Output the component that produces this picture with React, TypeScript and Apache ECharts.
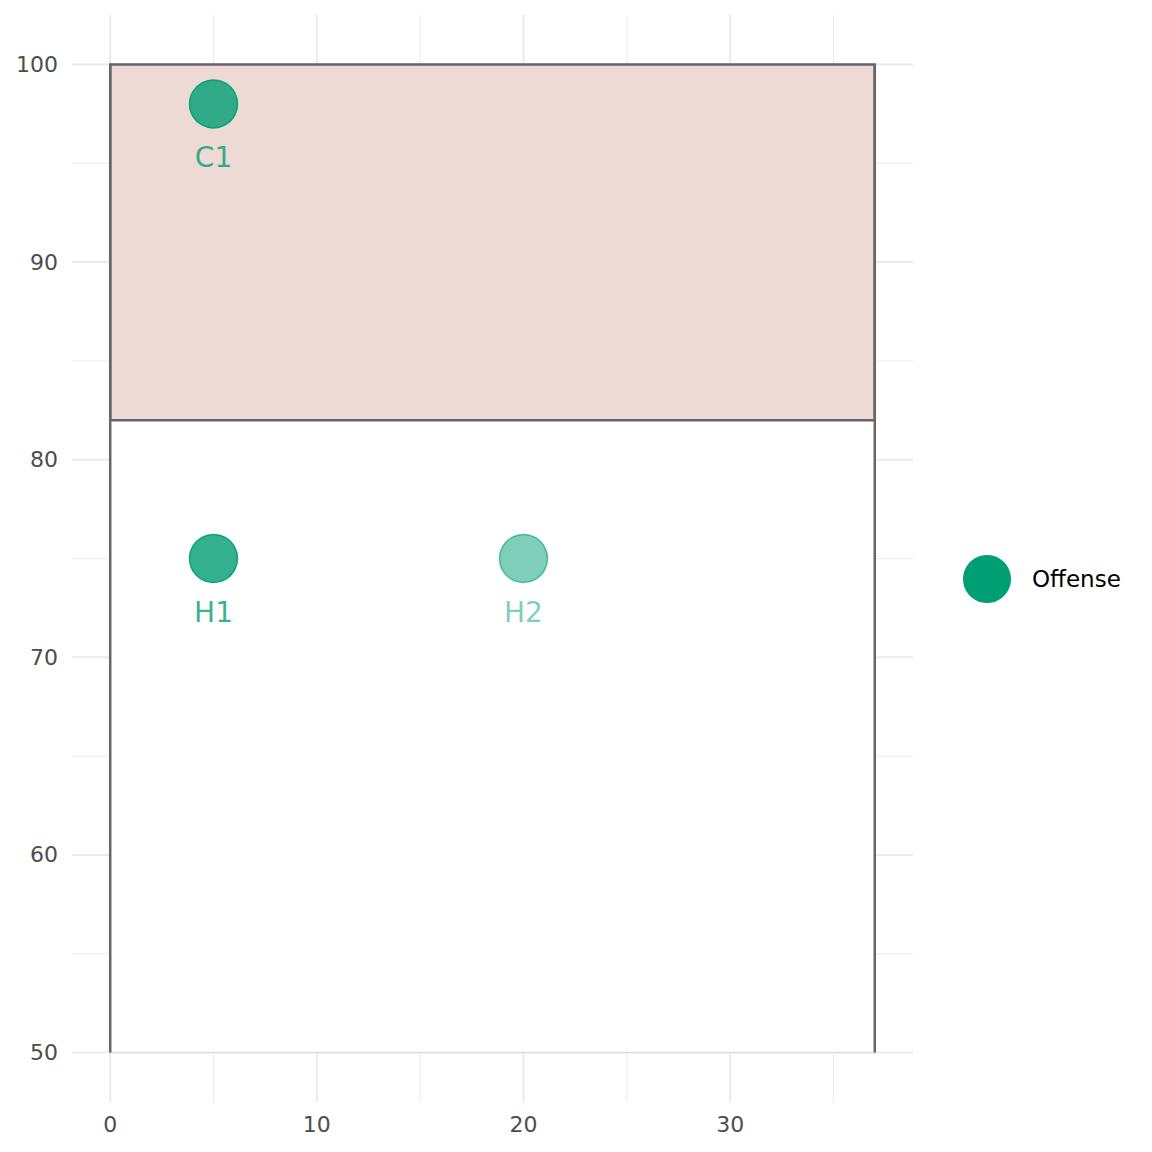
import React, { useEffect, useRef } from "react";
import * as echarts from "echarts";

// ---- data ----
const pointNames = ["C1", "H1", "H2"];
const pointX = [5, 5, 20];
const pointY = [98, 75, 75];
const pointAlpha = [0.8, 0.8, 0.5];
const seriesName = "Offense";

// zones: [x0, y0, x1, y1]
const lowerZone = [0, 50, 37, 82];
const upperZone = [0, 82, 37, 100];
// vertical boundary lines: [x0, y0, x1, y1]
const boundaryLines = [
  [0, 50, 0, 100],
  [37, 50, 37, 100],
];

const xMajor = [0, 10, 20, 30];
const xMinor = [5, 15, 25, 35];
const yMajor = [50, 60, 70, 80, 90, 100];
const yMinor = [55, 65, 75, 85, 95];

const xRange = [-1.85, 38.85];
const yRange = [47.5, 102.5];

const FONT = "DejaVu Sans";

export default function App() {
  const ref = useRef<HTMLDivElement>(null);
  useEffect(() => {
    if (!ref.current) return;
    const chart = echarts.init(ref.current, undefined, { renderer: "svg" });

    // grid line rows: [value, isY (0/1), lineWidth]
    const gridRows = [
      ...xMinor.map((v) => [v, 0, 1]),
      ...yMinor.map((v) => [v, 1, 1]),
      ...xMajor.map((v) => [v, 0, 2]),
      ...yMajor.map((v) => [v, 1, 2]),
    ];

    const option: any = {
      animation: false,
      backgroundColor: "#FFFFFF",
      grid: { left: 72, right: 239, top: 15, bottom: 50, containLabel: false },
      xAxis: {
        type: "value",
        min: xRange[0],
        max: xRange[1],
        axisLine: { show: false },
        axisTick: { show: false },
        splitLine: { show: false },
        axisLabel: {
          customValues: xMajor,
          color: "#4D4D4D",
          fontSize: 22,
          fontFamily: FONT,
          margin: 11,
        },
      },
      yAxis: {
        type: "value",
        min: yRange[0],
        max: yRange[1],
        axisLine: { show: false },
        axisTick: { show: false },
        splitLine: { show: false },
        axisLabel: {
          customValues: yMajor,
          color: "#4D4D4D",
          fontSize: 22,
          fontFamily: FONT,
          margin: 14,
        },
      },
      legend: {
        show: true,
        left: 958,
        top: 550,
        orient: "vertical",
        itemWidth: 48,
        itemHeight: 48,
        icon: "circle",
        data: [{ name: seriesName, itemStyle: { color: "#009E73", opacity: 1, borderWidth: 0 } }],
        textStyle: { color: "#000000", fontSize: 23, fontFamily: FONT, padding: [0, 0, 0, 16] },
      },
      series: [
        {
          type: "custom",
          name: "gridlines",
          silent: true,
          z: 0,
          clip: false,
          data: gridRows,
          renderItem: (params: any, api: any) => {
            const v = api.value(0);
            const isY = api.value(1) === 1;
            const w = api.value(2);
            const cs = params.coordSys;
            if (isY) {
              const p = api.coord([xRange[0], v]);
              return {
                type: "line",
                shape: { x1: cs.x, y1: p[1], x2: cs.x + cs.width, y2: p[1] },
                style: { stroke: "#EBEBEB", lineWidth: w },
              };
            }
            const p = api.coord([v, yRange[0]]);
            return {
              type: "line",
              shape: { x1: p[0], y1: cs.y, x2: p[0], y2: cs.y + cs.height },
              style: { stroke: "#EBEBEB", lineWidth: w },
            };
          },
        },
        {
          type: "custom",
          name: "zones",
          silent: true,
          z: 1,
          encode: { x: [0, 2], y: [1, 3] },
          data: [
            [...lowerZone, 0],
            [...upperZone, 1],
          ],
          renderItem: (params: any, api: any) => {
            const p0 = api.coord([api.value(0), api.value(1)]);
            const p1 = api.coord([api.value(2), api.value(3)]);
            const kind = api.value(4);
            return {
              type: "rect",
              shape: {
                x: p0[0],
                y: p1[1],
                width: p1[0] - p0[0],
                height: p0[1] - p1[1],
              },
              style:
                kind === 1
                  ? { fill: "#EEDAD4", stroke: "#666666", lineWidth: 2.5 }
                  : { fill: "#FFFFFF", stroke: "#DDDDDD", lineWidth: 1.5 },
            };
          },
        },
        {
          type: "custom",
          name: "bounds",
          silent: true,
          z: 2,
          encode: { x: [0, 2], y: [1, 3] },
          data: boundaryLines,
          renderItem: (params: any, api: any) => {
            const p0 = api.coord([api.value(0), api.value(1)]);
            const p1 = api.coord([api.value(2), api.value(3)]);
            return {
              type: "line",
              shape: { x1: p0[0], y1: p0[1], x2: p1[0], y2: p1[1] },
              style: { stroke: "#666666", lineWidth: 2.5 },
            };
          },
        },
        {
          type: "scatter",
          name: seriesName,
          z: 3,
          symbol: "circle",
          symbolSize: 48,
          itemStyle: { opacity: 1 },
          data: pointNames.map((n, i) => ({
            name: n,
            value: [pointX[i], pointY[i]],
            itemStyle: {
              opacity: 1,
              color: `rgba(0,158,115,${pointAlpha[i]})`,
              borderColor: `rgba(0,158,115,${Math.min(1, pointAlpha[i] + 0.1)})`,
              borderWidth: 1.5,
            },
            label: { color: `rgba(0,158,115,${pointAlpha[i]})` },
          })),
          label: {
            show: true,
            position: "bottom",
            distance: 15,
            formatter: (p: any) => p.name,
            fontSize: 28,
            fontFamily: FONT,
          },
          emphasis: { disabled: true },
        },
      ],
    };
    chart.setOption(option);
    return () => chart.dispose();
  }, []);
  return (
    <div
      ref={ref}
      style={{ position: "fixed", left: 0, top: 0, width: 1152, height: 1152, background: "#fff" }}
    />
  );
}
